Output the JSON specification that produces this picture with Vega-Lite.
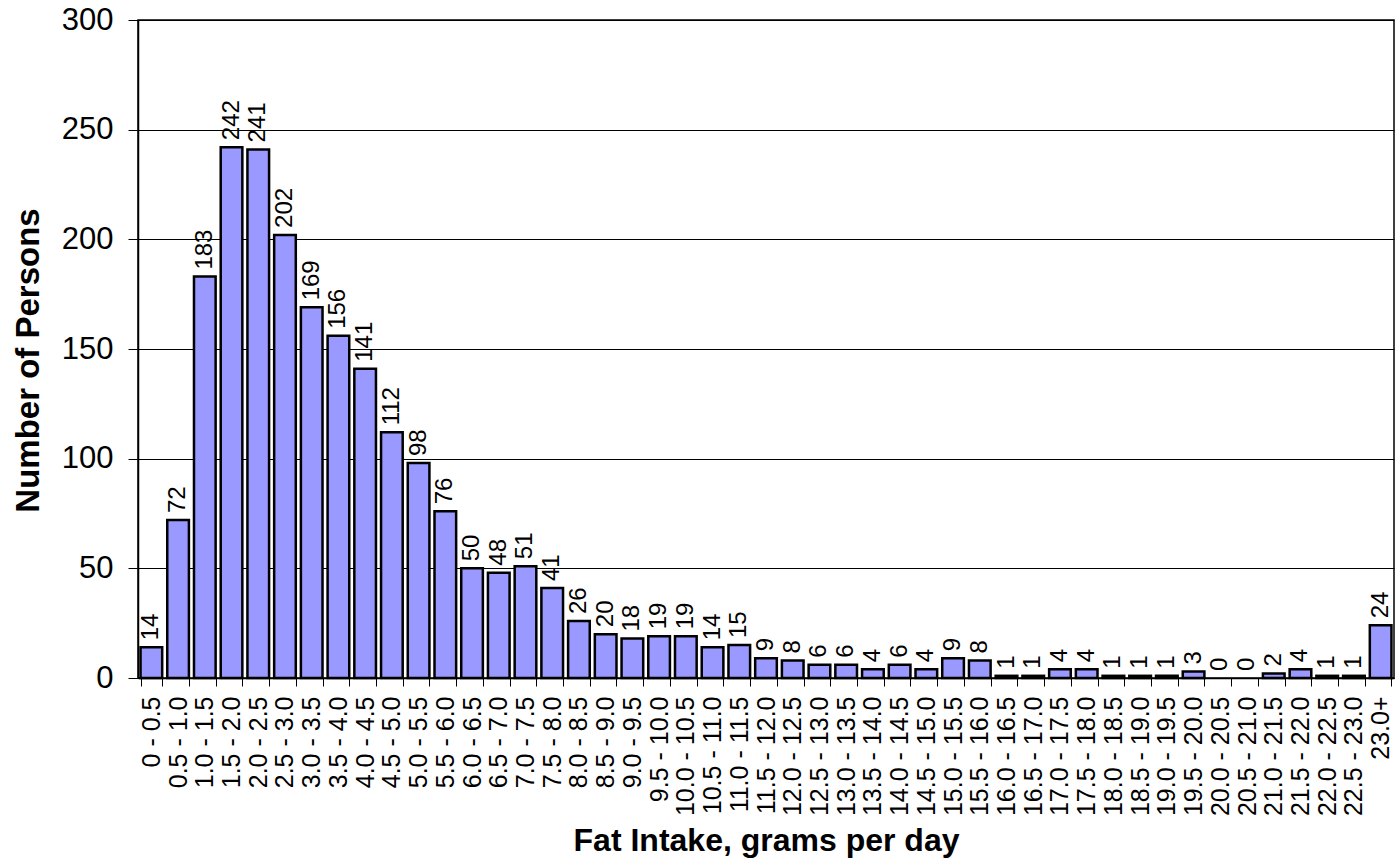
{
  "$schema": "https://vega.github.io/schema/vega-lite/v6.json",
  "width": 1256,
  "height": 658,
  "autosize": {"type": "none"},
  "padding": {"left": 138, "top": 20, "right": 1, "bottom": 187},
  "background": "white",
  "config": {
    "font": "Liberation Sans",
    "view": {"stroke": "#000", "strokeWidth": 1.5}
  },
  "data": {
    "values": [
      {"bin": "0 - 0.5", "n": 14},
      {"bin": "0.5 - 1.0", "n": 72},
      {"bin": "1.0 - 1.5", "n": 183},
      {"bin": "1.5 - 2.0", "n": 242},
      {"bin": "2.0 - 2.5", "n": 241},
      {"bin": "2.5 - 3.0", "n": 202},
      {"bin": "3.0 - 3.5", "n": 169},
      {"bin": "3.5 - 4.0", "n": 156},
      {"bin": "4.0 - 4.5", "n": 141},
      {"bin": "4.5 - 5.0", "n": 112},
      {"bin": "5.0 - 5.5", "n": 98},
      {"bin": "5.5 - 6.0", "n": 76},
      {"bin": "6.0 - 6.5", "n": 50},
      {"bin": "6.5 - 7.0", "n": 48},
      {"bin": "7.0 - 7.5", "n": 51},
      {"bin": "7.5 - 8.0", "n": 41},
      {"bin": "8.0 - 8.5", "n": 26},
      {"bin": "8.5 - 9.0", "n": 20},
      {"bin": "9.0 - 9.5", "n": 18},
      {"bin": "9.5 - 10.0", "n": 19},
      {"bin": "10.0 - 10.5", "n": 19},
      {"bin": "10.5 - 11.0", "n": 14},
      {"bin": "11.0 - 11.5", "n": 15},
      {"bin": "11.5 - 12.0", "n": 9},
      {"bin": "12.0 - 12.5", "n": 8},
      {"bin": "12.5 - 13.0", "n": 6},
      {"bin": "13.0 - 13.5", "n": 6},
      {"bin": "13.5 - 14.0", "n": 4},
      {"bin": "14.0 - 14.5", "n": 6},
      {"bin": "14.5 - 15.0", "n": 4},
      {"bin": "15.0 - 15.5", "n": 9},
      {"bin": "15.5 - 16.0", "n": 8},
      {"bin": "16.0 - 16.5", "n": 1},
      {"bin": "16.5 - 17.0", "n": 1},
      {"bin": "17.0 - 17.5", "n": 4},
      {"bin": "17.5 - 18.0", "n": 4},
      {"bin": "18.0 - 18.5", "n": 1},
      {"bin": "18.5 - 19.0", "n": 1},
      {"bin": "19.0 - 19.5", "n": 1},
      {"bin": "19.5 - 20.0", "n": 3},
      {"bin": "20.0 - 20.5", "n": 0},
      {"bin": "20.5 - 21.0", "n": 0},
      {"bin": "21.0 - 21.5", "n": 2},
      {"bin": "21.5 - 22.0", "n": 4},
      {"bin": "22.0 - 22.5", "n": 1},
      {"bin": "22.5 - 23.0", "n": 1},
      {"bin": "23.0+", "n": 24}
    ]
  },
  "encoding": {
    "x": {
      "field": "bin",
      "type": "nominal",
      "sort": null,
      "scale": {"paddingInner": 0.19, "paddingOuter": 0.095},
      "axis": {
        "title": "Fat Intake, grams per day",
        "titleFont": "Liberation Sans",
        "titleFontSize": 32,
        "titleFontWeight": "bold",
        "titleColor": "#000",
        "titleBaseline": "alphabetic",
        "titleY": 172,
        "labelAngle": -90,
        "labelAlign": "right",
        "labelBaseline": "middle",
        "labelFontSize": 25,
        "labelColor": "#000",
        "labelPadding": 10,
        "labelOverlap": false,
        "tickBand": "extent",
        "tickSize": 8,
        "tickColor": "#000",
        "tickWidth": 1,
        "domainColor": "#000",
        "domainWidth": 1.5,
        "grid": false
      }
    }
  },
  "layer": [
    {
      "mark": {"type": "bar", "fill": "#9999FF", "stroke": "#000", "strokeWidth": 2.5},
      "encoding": {
        "y": {
          "field": "n",
          "type": "quantitative",
          "scale": {"domain": [0, 300], "nice": false},
          "axis": {
            "title": "Number of Persons",
            "titleFont": "Liberation Sans",
            "titleFontSize": 33,
            "titleFontWeight": "bold",
            "titleColor": "#000",
            "titleBaseline": "alphabetic",
            "titleX": -100,
            "titleY": 340,
            "values": [0, 50, 100, 150, 200, 250, 300],
            "labelFontSize": 31,
            "labelColor": "#000",
            "labelPadding": 15,
            "tickSize": 10,
            "tickColor": "#000",
            "tickWidth": 1,
            "domainColor": "#000",
            "domainWidth": 1.5,
            "grid": true,
            "gridColor": "#000",
            "gridWidth": 1,
            "gridOpacity": 1
          }
        },
        "strokeOpacity": {"condition": {"test": "datum.n === 0", "value": 0}, "value": 1}
      }
    },
    {
      "mark": {"type": "text", "angle": 270, "align": "left", "baseline": "middle", "dx": 7, "fontSize": 24, "color": "#000", "font": "Liberation Sans"},
      "encoding": {
        "y": {"field": "n", "type": "quantitative"},
        "text": {"field": "n", "type": "quantitative"}
      }
    }
  ]
}
